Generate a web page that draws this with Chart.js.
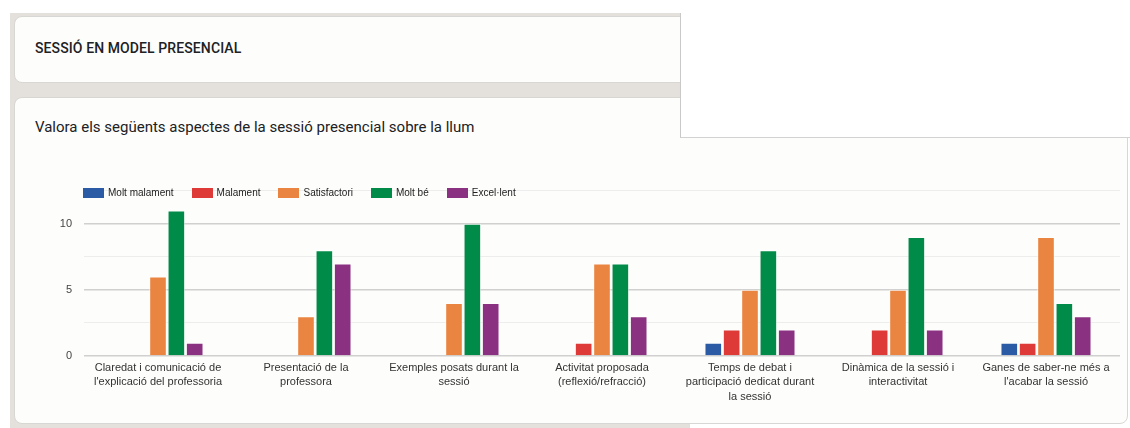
<!DOCTYPE html>
<html>
<head>
<meta charset="utf-8">
<script src="https://cdn.jsdelivr.net/npm/chart.js@4"></script>
<style>
	html, body { margin: 0; padding: 0; background: #ffffff; }
	body { width: 1130px; height: 428px; position: relative; overflow: hidden; font-family: Roboto, "Liberation Sans", Arial, sans-serif; }
	#back		{ position: absolute; left: 10px; top: 13px; width: 680px; height: 415px; background: #e4e1dd; }
	.card		{ position: absolute; background: #fdfdfb; border: 1px solid #d9d7d3; border-radius: 8px; box-sizing: border-box; }
	#card1		{ left: 14px; top: 16px; width: 700px; height: 67px; }
	#card2		{ left: 14px; top: 97px; width: 1114px; height: 327px; }
	#card1 h2	{ position: absolute; left: 20px; top: 23px; margin: 0; font-size: 14px; font-weight: 500; color: #202124; letter-spacing: 0.1px; }
	#card2 h3	{ position: absolute; left: 20px; top: 20px; margin: 0; font-size: 15px; font-weight: 400; color: #202124; }
	#panel		{ position: absolute; left: 680px; top: 13px; width: 450px; height: 125px; background: #ffffff; border-left: 1px solid #c9c9c9; border-bottom: 1px solid #d2d2d2; box-sizing: border-box; }
	#legend		{ position: absolute; left: 83px; top: 187px; display: flex; gap: 18px; font-family: "Liberation Sans", Arial, sans-serif; font-size: 10px; color: #222; }
	#legend span.item	{ display: flex; align-items: center; }
	#legend span.box	{ display: inline-block; width: 21px; height: 10px; margin-right: 4px; }
	#wrap		{ position: absolute; left: 20px; top: 172px; width: 1100px; height: 248px; }
</style>
</head>
<body>
<div id="back"></div>
<div class="card" id="card1"><h2>SESSIÓ EN MODEL PRESENCIAL</h2></div>
<div class="card" id="card2"><h3>Valora els següents aspectes de la sessió presencial sobre la llum</h3></div>
<div id="panel"></div>
<div id="wrap"><canvas id="chart"></canvas></div>
<div id="legend"></div>

<script>
const CATEGORIES	= [
	[ "Claredat i comunicació de", "l'explicació del professoria" ],
	[ "Presentació de la", "professora" ],
	[ "Exemples posats durant la", "sessió" ],
	[ "Activitat proposada", "(reflexió/refracció)" ],
	[ "Temps de debat i", "participació dedicat durant", "la sessió" ],
	[ "Dinàmica de la sessió i", "interactivitat" ],
	[ "Ganes de saber-ne més a", "l'acabar la sessió" ]
];

const SERIES_NAMES	= [ "Molt malament", "Malament", "Satisfactori", "Molt bé", "Excel·lent" ];
const SERIES_COLORS	= [ "#2b5ba4", "#de3a37", "#ea8541", "#008c48", "#8b3181" ];

const MOLT_MALAMENT	= [ 0, 0, 0, 0, 1, 0, 1 ];
const MALAMENT		= [ 0, 0, 0, 1, 2, 2, 1 ];
const SATISFACTORI	= [ 6, 3, 4, 7, 5, 5, 9 ];
const MOLT_BE		= [ 11, 8, 10, 7, 8, 9, 4 ];
const EXCELLENT		= [ 1, 7, 4, 3, 2, 2, 3 ];

const Y_TICKS_SHOWN	= [ 0, 5, 10 ];

const values	= [ MOLT_MALAMENT, MALAMENT, SATISFACTORI, MOLT_BE, EXCELLENT ];

// legend drawn as html so it can sit over the top of the plot
const legend	= document.getElementById( "legend" );
for ( let i = 0; i < SERIES_NAMES.length; i++ ) {
	const item	= document.createElement( "span" );
	item.className	= "item";
	item.innerHTML	= '<span class="box" style="background:' + SERIES_COLORS[ i ] + '"></span>' + SERIES_NAMES[ i ];
	legend.appendChild( item );
}

const datasets	= [];
for ( let i = 0; i < SERIES_NAMES.length; i++ ) {
	datasets.push( {
		label			: SERIES_NAMES[ i ],
		data			: values[ i ],
		backgroundColor	: SERIES_COLORS[ i ],
		borderColor		: "rgba(255,255,255,0.6)",
		borderWidth		: 1,
		categoryPercentage	: 0.62,
		barPercentage	: 0.96
	} );
}

const isMajor	= v => Y_TICKS_SHOWN.includes( v );

new Chart( document.getElementById( "chart" ), {
	type	: "bar",
	data	: { labels: CATEGORIES, datasets: datasets },
	options	: {
		responsive			: true,
		maintainAspectRatio	: false,
		animation			: false,
		layout	: { padding: { top: 8, right: 0, left: 0, bottom: 0 } },
		plugins	: { legend: { display: false }, tooltip: { enabled: false } },
		scales	: {
			x	: {
				grid	: { display: false, drawTicks: false },
				border	: { display: false },
				ticks	: {
					color		: "#333",
					padding		: 5,
					maxRotation	: 0,
					autoSkip	: false,
					font		: { family: "'Liberation Sans', Arial, sans-serif", size: 11, lineHeight: 1.3 }
				},
				afterFit	: scale => { scale.height = 64; }
			},
			y	: {
				min	: 0,
				max	: 12.5,
				grid	: {
					drawTicks	: false,
					color		: ctx => isMajor( ctx.tick.value ) ? "#d0d0d0" : "#ededed",
					lineWidth	: ctx => isMajor( ctx.tick.value ) ? 1.5 : 1
				},
				border	: { display: false },
				ticks	: {
					stepSize	: 2.5,
					padding		: 12,
					color		: "#444",
					font		: { family: "'Liberation Sans', Arial, sans-serif", size: 11 },
					callback	: v => isMajor( v ) ? v : ""
				},
				afterFit	: scale => { scale.width = 64; }
			}
		}
	}
} );
</script>
</body>
</html>
